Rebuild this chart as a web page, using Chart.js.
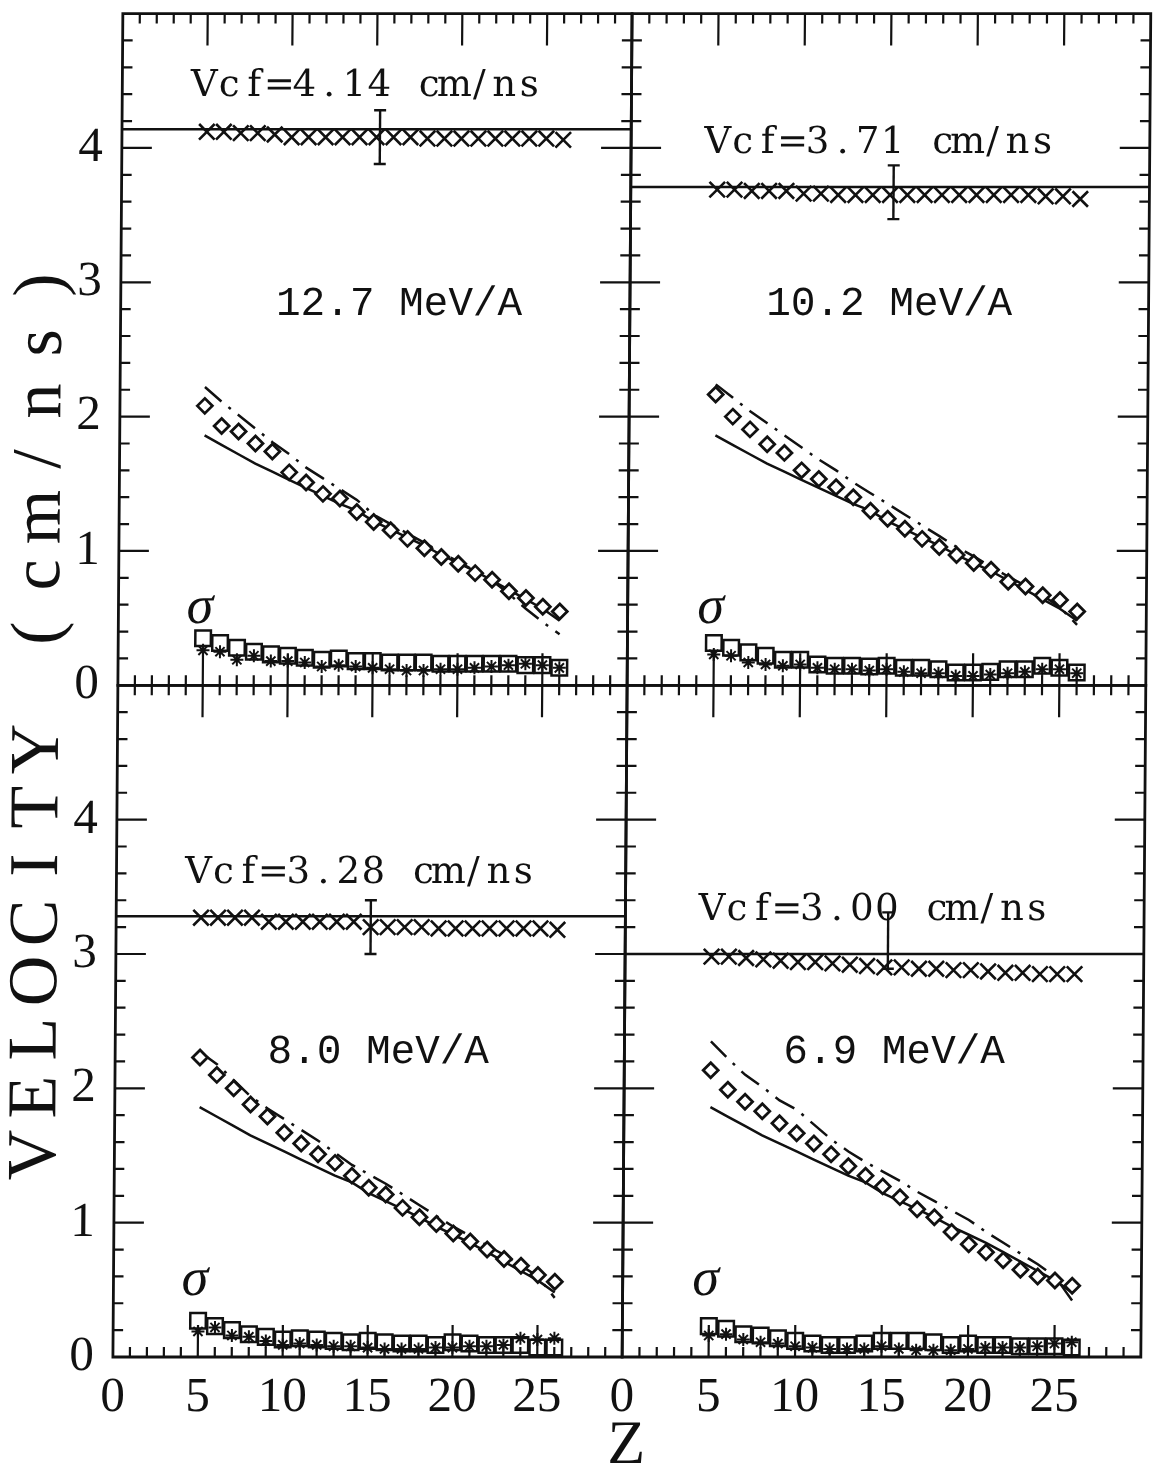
<!DOCTYPE html>
<html>
<head>
<meta charset="utf-8">
<title>Fragment velocities vs Z</title>
<script src="https://cdn.jsdelivr.net/npm/chart.js@4.4.1/dist/chart.umd.min.js"></script>
<style>
  html, body { margin: 0; padding: 0; background: #fff; }
  #velocity { display: block; }
</style>
</head>
<body>
<canvas id="velocity" width="1159" height="1474"></canvas>
<script>
// fragment charge
const zValues = [5, 6, 7, 8, 9, 10, 11, 12, 13, 14, 15, 16, 17, 18, 19, 20, 21, 22, 23, 24, 25, 26];

// one panel per beam energy: 12.7, 10.2, 8.0, 6.9 MeV/A
const energyLabels = ["12.7 MeV/A", "10.2 MeV/A", "8.0 MeV/A", "6.9 MeV/A"];
const vcf = [4.14, 3.71, 3.28, 3.00];

// source velocity (x marks) with one error bar each
const cross127 = [4.12, 4.12, 4.11, 4.11, 4.10, 4.08, 4.08, 4.08, 4.08, 4.08, 4.08, 4.08, 4.08, 4.07, 4.07, 4.07, 4.07, 4.07, 4.07, 4.07, 4.07, 4.06];
const cross102 = [3.69, 3.69, 3.68, 3.68, 3.68, 3.66, 3.66, 3.65, 3.65, 3.65, 3.65, 3.65, 3.65, 3.65, 3.65, 3.65, 3.65, 3.65, 3.65, 3.64, 3.64, 3.62];
const cross80 = [3.27, 3.27, 3.27, 3.27, 3.24, 3.24, 3.24, 3.24, 3.24, 3.24, 3.20, 3.20, 3.20, 3.20, 3.19, 3.19, 3.19, 3.19, 3.19, 3.19, 3.19, 3.18];
const cross69 = [2.98, 2.98, 2.97, 2.96, 2.95, 2.94, 2.94, 2.93, 2.92, 2.91, 2.90, 2.90, 2.89, 2.89, 2.88, 2.88, 2.87, 2.86, 2.86, 2.85, 2.85, 2.85];
const errZ = [15.2, 15.2, 15.0, 15.2];
const errLow = [3.88, 3.47, 3.00, 2.89];
const errHigh = [4.28, 3.87, 3.40, 3.31];

// emission velocity in the source frame (diamonds)
const diam127 = [2.08, 1.93, 1.89, 1.80, 1.74, 1.585, 1.51, 1.425, 1.39, 1.29, 1.215, 1.155, 1.09, 1.02, 0.955, 0.905, 0.835, 0.785, 0.70, 0.65, 0.585, 0.55];
const diam102 = [2.165, 2.00, 1.905, 1.795, 1.73, 1.60, 1.535, 1.475, 1.40, 1.30, 1.24, 1.165, 1.09, 1.03, 0.97, 0.91, 0.86, 0.77, 0.735, 0.67, 0.635, 0.55];
const diam80 = [2.23, 2.10, 2.00, 1.88, 1.79, 1.67, 1.59, 1.51, 1.445, 1.35, 1.26, 1.21, 1.11, 1.04, 0.99, 0.92, 0.86, 0.80, 0.73, 0.68, 0.61, 0.56];
const diam69 = [2.135, 1.99, 1.90, 1.83, 1.74, 1.665, 1.59, 1.51, 1.42, 1.35, 1.27, 1.19, 1.10, 1.04, 0.93, 0.84, 0.78, 0.72, 0.65, 0.60, 0.57, 0.53];

// calculations: solid curve is the same in every panel, dash-dot differs
const solidCurve = [1.86, 1.79, 1.72, 1.65, 1.59, 1.53, 1.47, 1.41, 1.35, 1.30, 1.22, 1.16, 1.10, 1.04, 0.97, 0.91, 0.85, 0.78, 0.71, 0.64, 0.57, 0.48];
const dash127 = [2.22, 2.11, 2.01, 1.91, 1.81, 1.72, 1.62, 1.54, 1.46, 1.38, 1.27, 1.20, 1.13, 1.06, 0.99, 0.92, 0.85, 0.78, 0.68, 0.57, 0.47, 0.38];
const dash102 = [2.24, 2.14, 2.04, 1.95, 1.86, 1.77, 1.68, 1.60, 1.51, 1.43, 1.35, 1.27, 1.19, 1.11, 1.03, 0.96, 0.88, 0.81, 0.74, 0.67, 0.58, 0.45];
const dash80 = [2.27, 2.18, 2.06, 1.94, 1.85, 1.77, 1.69, 1.61, 1.52, 1.43, 1.36, 1.29, 1.21, 1.13, 1.05, 0.97, 0.90, 0.83, 0.76, 0.68, 0.60, 0.44];
const dash69 = [2.35, 2.22, 2.10, 2.01, 1.91, 1.84, 1.73, 1.62, 1.53, 1.45, 1.38, 1.31, 1.23, 1.16, 1.09, 1.02, 0.93, 0.85, 0.77, 0.69, 0.60, 0.42];

// widths (sigma): squares and asterisks
const sq127 = [0.35, 0.315, 0.28, 0.25, 0.23, 0.22, 0.205, 0.19, 0.20, 0.18, 0.18, 0.17, 0.17, 0.17, 0.16, 0.16, 0.16, 0.16, 0.16, 0.15, 0.15, 0.13];
const sq102 = [0.315, 0.28, 0.245, 0.22, 0.19, 0.19, 0.155, 0.145, 0.145, 0.14, 0.145, 0.13, 0.13, 0.12, 0.095, 0.095, 0.10, 0.12, 0.12, 0.145, 0.13, 0.095];
const sq80 = [0.27, 0.23, 0.20, 0.17, 0.15, 0.13, 0.14, 0.13, 0.12, 0.11, 0.12, 0.11, 0.10, 0.10, 0.09, 0.11, 0.10, 0.09, 0.09, 0.09, 0.07, 0.07];
const sq69 = [0.23, 0.21, 0.17, 0.16, 0.14, 0.12, 0.10, 0.09, 0.09, 0.10, 0.12, 0.12, 0.12, 0.11, 0.09, 0.10, 0.09, 0.09, 0.08, 0.08, 0.08, 0.07];
const star127 = [0.26, 0.25, 0.19, 0.22, 0.18, 0.18, 0.17, 0.14, 0.15, 0.14, 0.13, 0.12, 0.11, 0.11, 0.12, 0.12, 0.13, 0.14, 0.15, 0.16, 0.15, 0.13];
const star102 = [0.23, 0.22, 0.17, 0.155, 0.145, 0.155, 0.13, 0.12, 0.12, 0.11, 0.12, 0.10, 0.09, 0.09, 0.07, 0.07, 0.08, 0.09, 0.10, 0.12, 0.12, 0.09];
const star80 = [0.19, 0.22, 0.16, 0.15, 0.12, 0.09, 0.10, 0.09, 0.08, 0.08, 0.07, 0.06, 0.06, 0.06, 0.07, 0.07, 0.08, 0.08, 0.09, 0.14, 0.13, 0.14];
const star69 = [0.16, 0.17, 0.13, 0.11, 0.10, 0.08, 0.07, 0.06, 0.06, 0.06, 0.08, 0.06, 0.05, 0.05, 0.05, 0.06, 0.07, 0.07, 0.07, 0.08, 0.10, 0.11];

const ink = "#111";
const serif = '"Liberation Serif", "DejaVu Serif", serif';
const wideSerif = '"DejaVu Serif", serif';

// axis pairs for the four panels, in the order of the arrays above
const panelAxes = [["xL", "yT"], ["xR", "yT"], ["xL", "yB"], ["xR", "yB"]];

const toPoints = (vals) => zValues.map((z, k) => ({ x: z, y: vals[k] }));

function panelDatasets(i, cross, diam, dash, sq, star) {
    const [xAxisID, yAxisID] = panelAxes[i];
    const base = { xAxisID, yAxisID, borderColor: ink, pointBorderColor: ink };
    // first entries end up on top
    return [
        { ...base, data: toPoints(diam), pointStyle: "rectRot", pointRadius: 7.5, pointBorderWidth: 2.8, pointBackgroundColor: "#fff" },
        { ...base, data: toPoints(star), pointStyle: "star", pointRadius: 6.5, pointBorderWidth: 2, pointBackgroundColor: "transparent" },
        { ...base, data: toPoints(sq), pointStyle: "rect", pointRadius: 11, pointBorderWidth: 2.5, pointBackgroundColor: "transparent" },
        { ...base, data: toPoints(cross), pointStyle: "crossRot", pointRadius: 11, pointBorderWidth: 2.6 },
        {
            ...base, data: [{ x: errZ[i], y: errLow[i] }, { x: errZ[i], y: errHigh[i] }],
            showLine: true, borderWidth: 2.4, pointStyle: "line", pointRadius: 6, pointBorderWidth: 2.4,
        },
        { ...base, data: toPoints(dash), showLine: true, borderWidth: 2.5, borderDash: [22, 9, 3, 9], pointRadius: 0 },
        { ...base, data: toPoints(solidCurve), showLine: true, borderWidth: 2.5, pointRadius: 0 },
        { ...base, data: [{ x: 0, y: vcf[i] }, { x: 30, y: vcf[i] }], showLine: true, borderWidth: 2.5, pointRadius: 0 },
    ];
}

const datasets = [
    ...panelDatasets(0, cross127, diam127, dash127, sq127, star127),
    ...panelDatasets(1, cross102, diam102, dash102, sq102, star102),
    ...panelDatasets(2, cross80, diam80, dash80, sq80, star80),
    ...panelDatasets(3, cross69, diam69, dash69, sq69, star69),
];

/**
 * Frames with inward ticks on all four sides of every panel,
 * so the shared borders get ticks on both sides.
 */
const panelFrames = {
    id: "panelFrames",
    beforeDatasetsDraw(chart) {
        const { ctx, scales } = chart;
        ctx.save();
        ctx.strokeStyle = ink;
        for (const [xId, yId] of panelAxes) {
            const xs = scales[xId];
            const ys = scales[yId];
            const L = xs.left, R = xs.right, T = ys.top, B = ys.bottom;
            ctx.lineWidth = 2.8;
            ctx.strokeRect(L, T, R - L, B - T);
            ctx.lineWidth = 2.2;
            ctx.beginPath();
            for (let z = 1; z < 30; z++) {
                const px = xs.getPixelForValue(z);
                const len = z % 5 === 0 ? 32 : 10;
                ctx.moveTo(px, B); ctx.lineTo(px, B - len);
                ctx.moveTo(px, T); ctx.lineTo(px, T + len);
            }
            for (let k = 1; k < 25; k++) {
                const py = ys.getPixelForValue(k / 5);
                const len = k % 5 === 0 ? 30 : 10;
                ctx.moveTo(L, py); ctx.lineTo(L + len, py);
                ctx.moveTo(R, py); ctx.lineTo(R - len, py);
            }
            ctx.stroke();
        }
        ctx.restore();
    },
};

// fixed-pitch text, one character per cell
function pitchedText(ctx, text, cx, y, pitch) {
    const x0 = cx - (pitch * text.length) / 2;
    [...text].forEach((ch, k) => ctx.fillText(ch, x0 + pitch * (k + 0.5), y));
}

// where the panel labels sit, in data units of each panel
const vcfLabelZ = 14.4;
const energyLabelPos = [[16.4, 2.76], [15.0, 2.76], [15.5, 2.19], [15.6, 2.19]];

const panelText = {
    id: "panelText",
    afterDraw(chart) {
        const { ctx, scales, chartArea } = chart;
        ctx.save();
        ctx.fillStyle = ink;
        ctx.textAlign = "center";
        ctx.textBaseline = "alphabetic";
        panelAxes.forEach(([xId, yId], i) => {
            const xs = scales[xId];
            const ys = scales[yId];
            const v = vcf[i].toFixed(2);
            ctx.font = "37px " + wideSerif;
            pitchedText(ctx, "Vcf=" + v + " cm/ns", xs.getPixelForValue(vcfLabelZ), ys.getPixelForValue(vcf[i] + 0.25), 25);
            ctx.font = '41px "Liberation Mono", monospace';
            const [ez, ev] = energyLabelPos[i];
            ctx.fillText(energyLabels[i], xs.getPixelForValue(ez), ys.getPixelForValue(ev));
            ctx.font = "italic 54px " + serif;
            ctx.textBaseline = "middle";
            ctx.fillText("\u03C3", xs.getPixelForValue(4.8), ys.getPixelForValue(0.57));
            ctx.textBaseline = "alphabetic";
        });

        // axis titles
        ctx.font = "62px " + serif;
        ctx.fillText("Z", (chartArea.left + chartArea.right) / 2, 1463);
        ctx.translate(58, 720);
        ctx.rotate(-Math.PI / 2);
        ctx.font = "70px " + serif;
        pitchedText(ctx, "VELOCITY (cm/ns)", 0, 0, 58);
        ctx.restore();
    },
};

// the whole figure leans a little to the right toward the top
const lean = 0.0074;
const leanRow = 737;
const slant = {
    id: "slant",
    beforeDraw(chart) {
        chart.ctx.save();
        chart.ctx.transform(1, 0, -lean, 1, lean * leanRow, 0);
    },
    afterDraw(chart) {
        chart.ctx.restore();
    },
};

const tickFont = { family: serif, size: 49 };

// no extra room for the outer tick labels; the frame sits at fixed offsets
function noLabelPadding(scale) {
    scale.paddingTop = 0;
    scale.paddingBottom = 0;
    scale.paddingLeft = 0;
    scale.paddingRight = 0;
}

function xAxis(weight) {
    return {
        type: "linear", position: "bottom", stack: "z", stackWeight: weight,
        min: 0, max: 30,
        grid: { display: false, drawTicks: false }, border: { display: false },
        ticks: {
            stepSize: 5, autoSkip: false, maxRotation: 0, padding: 12,
            color: ink, font: tickFont,
            callback: (value) => (value === 30 ? "" : value),
        },
        afterFit: (scale) => { scale.height = 117; noLabelPadding(scale); },
    };
}

function yAxis() {
    return {
        type: "linear", position: "left", stack: "v", stackWeight: 1,
        min: 0, max: 5,
        grid: { display: false, drawTicks: false }, border: { display: false },
        ticks: {
            stepSize: 1, autoSkip: false, padding: 19,
            color: ink, font: tickFont,
            callback: (value) => (value === 5 ? "" : value),
        },
        afterFit: (scale) => { scale.width = 117.5; noLabelPadding(scale); },
    };
}

const velocityConfig = {
    type: "scatter",
    data: { datasets },
    options: {
        responsive: false,
        animation: false,
        layout: { padding: { left: 0, top: 6, right: 9, bottom: 0 } },
        plugins: { legend: { display: false }, tooltip: { enabled: false } },
        // left axes stack top to bottom in reverse definition order
        scales: {
            xL: xAxis(511.5),
            xR: xAxis(521),
            yB: yAxis(),
            yT: yAxis(),
        },
    },
    plugins: [panelFrames, panelText, slant],
};

const velocityCtx = document.getElementById("velocity");
window.velocityChart = new Chart(velocityCtx, velocityConfig);
</script>
</body>
</html>
